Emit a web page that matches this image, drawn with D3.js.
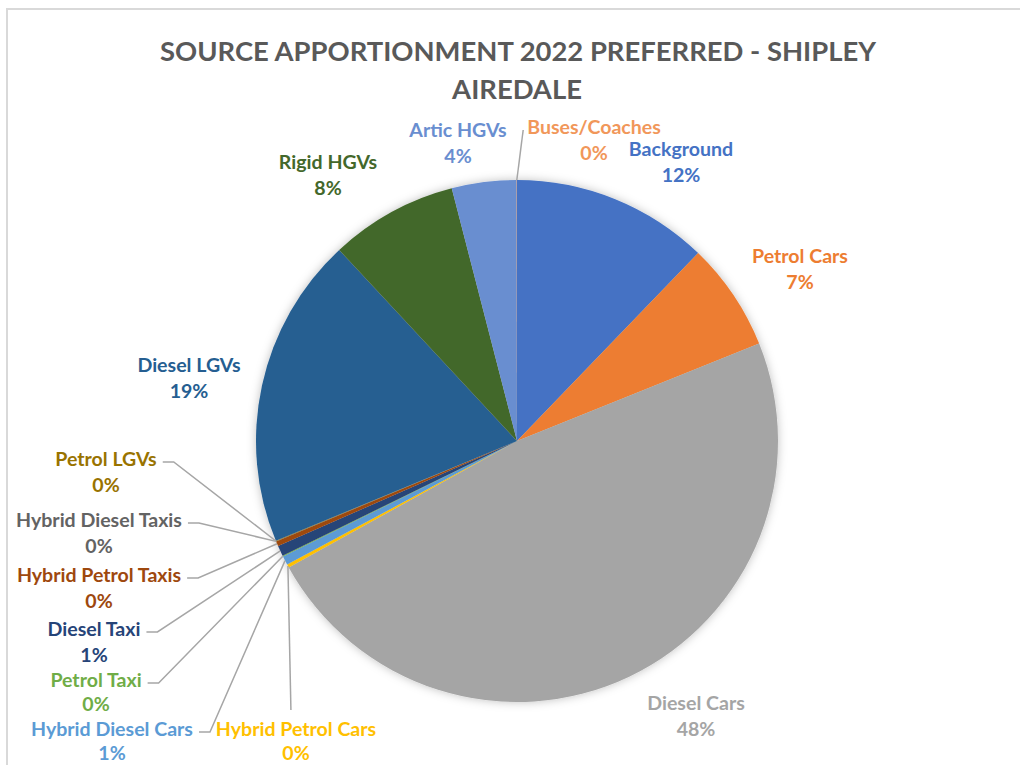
<!DOCTYPE html>
<html>
<head>
<meta charset="utf-8">
<script src="https://cdn.jsdelivr.net/npm/d3@7"></script>
<style>
  html, body { margin: 0; padding: 0; background: #fff; }
  svg { display: block; }
</style>
</head>
<body>
<svg id="chart" width="1020" height="765"></svg>
<script>
// ---- data ----
const categories = ["Background", "Petrol Cars", "Diesel Cars", "Hybrid Petrol Cars", "Hybrid Diesel Cars",
  "Petrol Taxi", "Diesel Taxi", "Hybrid Petrol Taxis", "Hybrid Diesel Taxis", "Petrol LGVs",
  "Diesel LGVs", "Rigid HGVs", "Artic HGVs", "Buses/Coaches"];
const values = [12.2, 6.7, 48.0, 0.2, 0.55, 0.06, 0.65, 0.3, 0.02, 0.03, 19.3, 7.9, 4.0, 0.02];
const colors = ["#4472C4", "#ED7D31", "#A5A5A5", "#FFC000", "#5B9BD5", "#70AD47", "#264478",
  "#9E480E", "#636363", "#997300", "#255E91", "#43682B", "#698ED0", "#F1975A"];
const titleLines = ["SOURCE APPORTIONMENT 2022 PREFERRED - SHIPLEY", "AIREDALE"];

// ---- layout (positions only) ----
const cx = 517, cy = 441, R = 261;
// label center x, first-line baseline y, line gap, leader type
const labelLayout = {
  "Background": [681, 156, 26, null],
  "Petrol Cars": [800, 263, 26, null],
  "Diesel Cars": [696, 710, 26, null],
  "Hybrid Petrol Cars": [296, 736, 24, "top"],
  "Hybrid Diesel Cars": [112, 736, 24, "left"],
  "Petrol Taxi": [96, 687, 24, "left"],
  "Diesel Taxi": [94, 636, 26, "left"],
  "Hybrid Petrol Taxis": [99, 582, 26, "left"],
  "Hybrid Diesel Taxis": [99, 527, 26, "left"],
  "Petrol LGVs": [106, 466, 26, "left"],
  "Diesel LGVs": [189, 372, 26, null],
  "Rigid HGVs": [328, 169, 26, null],
  "Artic HGVs": [458, 137, 26, null],
  "Buses/Coaches": [594, 134, 26, "rightof"]
};
const FONT = "Lato, 'Open Sans', sans-serif";

const svg = d3.select("#chart");

// frame
svg.append("path")
  .attr("d", "M7,765 L7,9 L1020,9")
  .attr("fill", "none").attr("stroke", "#d9d9d9").attr("stroke-width", 2);

// shadow filter
const defs = svg.append("defs");
const f = defs.append("filter").attr("id", "shadow").attr("x", "-20%").attr("y", "-20%")
  .attr("width", "140%").attr("height", "140%");
f.append("feDropShadow").attr("dx", 0).attr("dy", 0).attr("stdDeviation", 5)
  .attr("flood-color", "#000").attr("flood-opacity", 0.25);

// title
const title = svg.append("g");
const t1 = title.append("text").attr("x", 518).attr("y", 61).attr("text-anchor", "middle")
  .attr("font-family", FONT).attr("font-weight", "bold").attr("fill", "#595959")
  .attr("font-size", 26).text(titleLines[0]);
let w = t1.node().getComputedTextLength();
const titleSize = 26 * 716 / w;
t1.attr("font-size", titleSize);
title.append("text").attr("x", 517).attr("y", 99).attr("text-anchor", "middle")
  .attr("font-family", FONT).attr("font-weight", "bold").attr("fill", "#595959")
  .attr("font-size", titleSize).text(titleLines[1]);

// pie
const data = categories.map((c, i) => ({ name: c, value: values[i], color: colors[i] }));
const total = d3.sum(values);
const pie = d3.pie().sort(null).value(d => d.value);
const arcs = pie(data);
const arc = d3.arc().innerRadius(0).outerRadius(R);

const g = svg.append("g").attr("transform", `translate(${cx},${cy})`);
g.append("g").attr("filter", "url(#shadow)")
  .selectAll("path").data(arcs).join("path")
  .attr("d", arc).attr("fill", d => d.data.color);

// label font size fit
const probe = svg.append("text").attr("font-family", FONT).attr("font-weight", "bold")
  .attr("font-size", 20).text("Hybrid Diesel Taxis");
const labelSize = 20 * 166 / probe.node().getComputedTextLength();
probe.remove();

const fmt = d3.format(".0%");
const labels = svg.append("g");
const leaders = svg.append("g");

arcs.forEach(a => {
  const [lx, ly, gap, type] = labelLayout[a.data.name];
  const txt = labels.append("text").attr("text-anchor", "middle")
    .attr("font-family", FONT).attr("font-weight", "bold")
    .attr("font-size", labelSize).attr("fill", a.data.color);
  txt.append("tspan").attr("x", lx).attr("y", ly).text(a.data.name);
  txt.append("tspan").attr("x", lx).attr("y", ly + gap).text(fmt(a.data.value / total));

  if (!type) return;
  const mid = (a.startAngle + a.endAngle) / 2;
  const px = cx + R * Math.sin(mid), py = cy - R * Math.cos(mid);
  const tw = txt.select("tspan").node().getComputedTextLength();
  let pts;
  if (type === "left") {
    const sx = lx + tw / 2 + 6, sy = ly - 4;
    pts = [[sx, sy], [sx + 11, sy], [px, py]];
  } else if (type === "top") {
    pts = [[px + 3, ly - 26], [px, py]];
  } else if (type === "rightof") {
    pts = [[lx - tw / 2 - 4, ly - 4], [px, py]];
  }
  leaders.append("path").attr("d", d3.line()(pts))
    .attr("fill", "none").attr("stroke", "#a6a6a6").attr("stroke-width", 1.5);
});
</script>
</body>
</html>
